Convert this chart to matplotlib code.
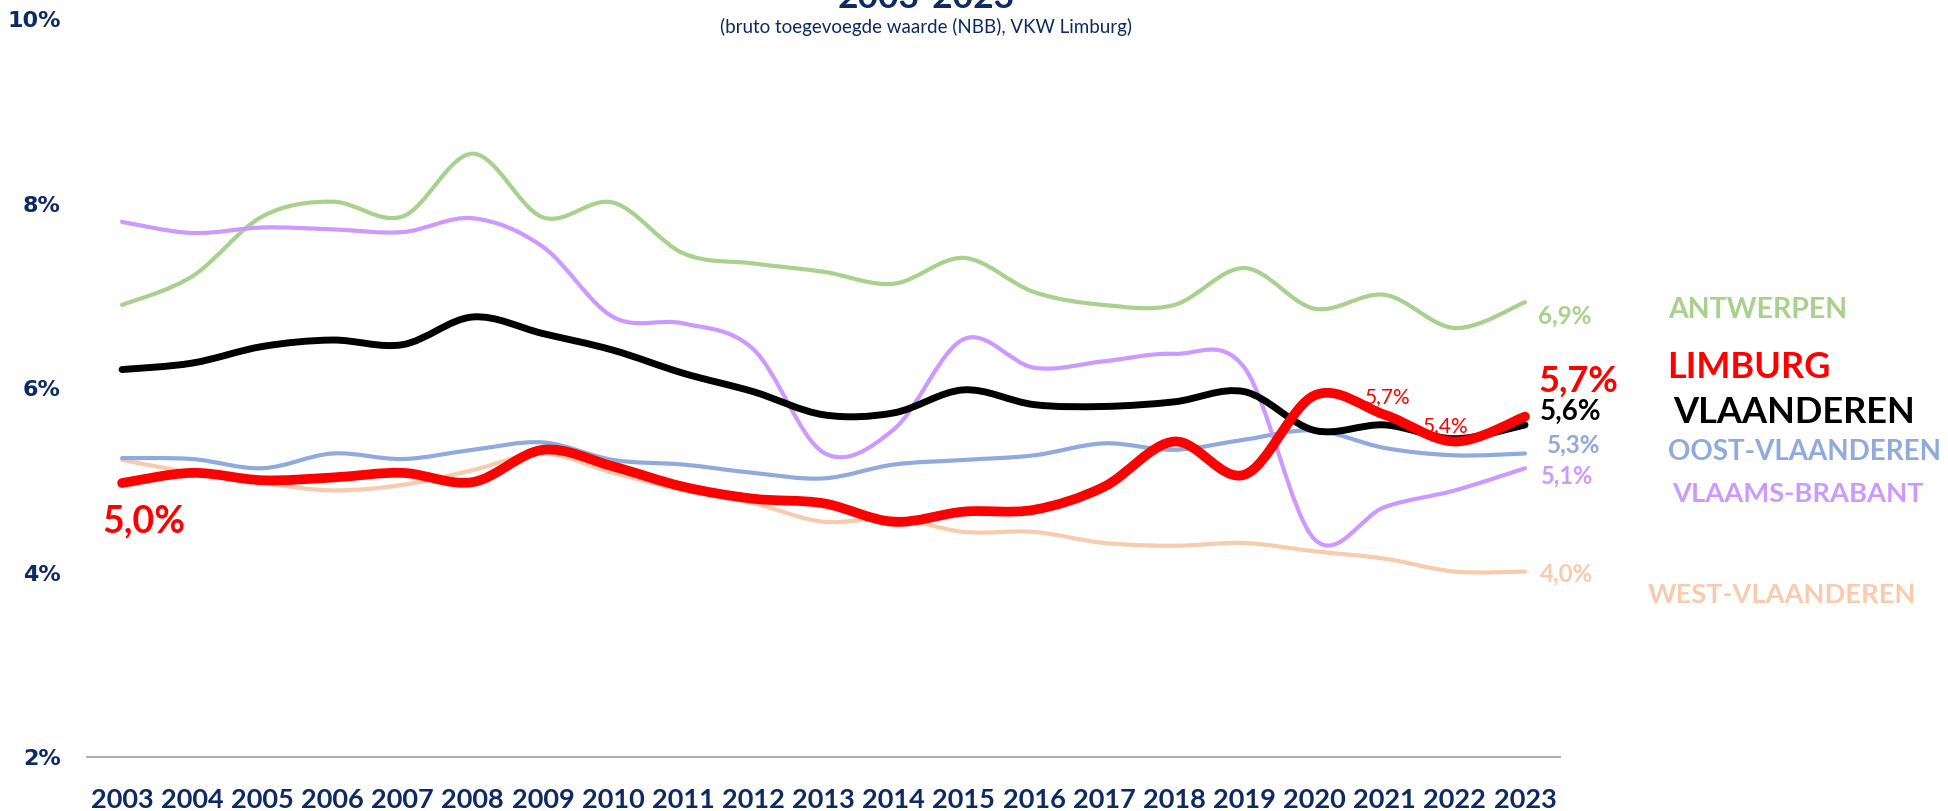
import numpy as np
import matplotlib
matplotlib.use("Agg")
from matplotlib import pyplot as plt
from matplotlib import font_manager
from matplotlib.path import Path
from matplotlib.patches import PathPatch

# ====================================================
# Data (share in %)
# ====================================================

years = [str(y) for y in range(2003, 2024)]

antwerpen = [6.90, 7.21, 7.86, 8.02, 7.86, 8.54, 7.85, 8.01, 7.46, 7.35, 7.26,
             7.13, 7.41, 7.04, 6.90, 6.90, 7.30, 6.86, 7.01, 6.65, 6.93]
vlaams_brabant = [7.80, 7.68, 7.74, 7.72, 7.69, 7.84, 7.53, 6.77, 6.70, 6.42, 5.30,
                  5.55, 6.53, 6.22, 6.29, 6.37, 6.22, 4.36, 4.71, 4.89, 5.13]
vlaanderen = [6.20, 6.27, 6.45, 6.52, 6.47, 6.77, 6.59, 6.41, 6.16, 5.96, 5.71,
              5.73, 5.98, 5.82, 5.80, 5.85, 5.96, 5.54, 5.60, 5.45, 5.60]
limburg = [4.97, 5.08, 5.00, 5.03, 5.08, 4.98, 5.33, 5.15, 4.93, 4.80, 4.75,
           4.55, 4.66, 4.68, 4.93, 5.42, 5.06, 5.92, 5.71, 5.42, 5.69]
oost_vlaanderen = [5.24, 5.23, 5.13, 5.29, 5.23, 5.33, 5.41, 5.22, 5.17, 5.08, 5.02,
                   5.17, 5.22, 5.27, 5.40, 5.33, 5.44, 5.54, 5.35, 5.27, 5.29]
west_vlaanderen = [5.22, 5.08, 4.97, 4.89, 4.95, 5.11, 5.29, 5.08, 4.89, 4.75, 4.55,
                   4.59, 4.44, 4.44, 4.32, 4.29, 4.32, 4.23, 4.15, 4.01, 4.01]

y_ticks = [2, 4, 6, 8, 10]
y_tick_labels = ["2%", "4%", "6%", "8%", "10%"]

title = "2003-2023"
subtitle = "(bruto toegevoegde waarde (NBB), VKW Limburg)"

# ====================================================
# Fonts and colours
# ====================================================

available = {f.name for f in font_manager.fontManager.ttflist}


def pick(*names):
    for n in names:
        if n in available:
            return n
    return "DejaVu Sans"


label_font = pick("Lato", "Open Sans", "DejaVu Sans")
narrow_font = pick("Liberation Sans Narrow", "Lato", "Roboto", "DejaVu Sans")

NAVY = "#0d2a63"
C_ANT = "#a9d18e"
C_VB = "#cc99ff"
C_VL = "#000000"
C_LIM = "#ff0000"
C_OV = "#8faadc"
C_WV = "#f8cbad"


def smooth_path(xs, ys):
    # Excel-style smoothed line: cubic Bezier through every point
    pts = np.column_stack([xs, ys]).astype(float)
    n = len(pts)
    verts = [pts[0]]
    codes = [Path.MOVETO]
    for i in range(n - 1):
        p0 = pts[i - 1] if i > 0 else pts[i]
        p1 = pts[i]
        p2 = pts[i + 1]
        p3 = pts[i + 2] if i + 2 < n else pts[i + 1]
        c1 = p1 + (p2 - p0) / 6.0
        c2 = p2 - (p3 - p1) / 6.0
        verts += [c1, c2, p2]
        codes += [Path.CURVE4] * 3
    return Path(verts, codes)


def main() -> None:
    fig = plt.figure(figsize=(19.48, 8.11), dpi=100)
    ax = fig.add_axes([0.04466, 0.06658, 0.7562, 0.90999])

    x = np.arange(len(years))

    series = [
        (west_vlaanderen, C_WV, 3.0),
        (oost_vlaanderen, C_OV, 3.0),
        (antwerpen, C_ANT, 3.0),
        (vlaams_brabant, C_VB, 3.0),
        (vlaanderen, C_VL, 5.0),
        (limburg, C_LIM, 7.0),
    ]
    for vals, col, lw in series:
        ax.add_patch(PathPatch(smooth_path(x, vals), fill=False, edgecolor=col,
                               lw=lw, capstyle="round", joinstyle="round"))

    ax.set_xlim(-0.5, len(years) - 0.5)
    ax.set_ylim(2, 10)

    # axes styling
    for s in ["top", "right", "left"]:
        ax.spines[s].set_visible(False)
    ax.spines["bottom"].set_color("#a6a6a6")
    ax.spines["bottom"].set_linewidth(1.3)

    ax.set_xticks(x)
    ax.set_xticklabels(years, fontfamily=narrow_font, fontweight="bold",
                       fontsize=19.5, color=NAVY)
    ax.set_yticks(y_ticks)
    ax.set_yticklabels(y_tick_labels, fontfamily="DejaVu Sans", fontweight="bold",
                       fontsize=16, color=NAVY)
    ax.tick_params(axis="x", length=0, pad=22)
    ax.tick_params(axis="y", length=0, pad=19)

    # ------------------------------------------------
    # value labels
    # ------------------------------------------------
    def lab(xp, yp, s, col, size, weight="bold", ha="left"):
        ax.text(xp, yp, s, color=col, fontsize=size, fontweight=weight,
                fontfamily=label_font, ha=ha, va="baseline", clip_on=False)

    lab(20.19, 6.70, f"{antwerpen[-1]:.1f}%".replace(".", ","), C_ANT, 17.5)
    lab(20.19, 5.96, f"{limburg[-1]:.1f}%".replace(".", ","), C_LIM, 26)
    lab(20.21, 5.65, f"{vlaanderen[-1]:.1f}%".replace(".", ","), C_VL, 20)
    lab(20.31, 5.30, f"{oost_vlaanderen[-1]:.1f}%".replace(".", ","), C_OV, 17.5)
    lab(20.23, 4.97, f"{vlaams_brabant[-1]:.1f}%".replace(".", ","), C_VB, 17)
    lab(20.21, 3.90, f"{west_vlaanderen[-1]:.1f}%".replace(".", ","), C_WV, 17.5)
    lab(0.31, 4.43, f"{limburg[0]:.1f}%".replace(".", ","), C_LIM, 27, ha="center")
    lab(17.71, 5.84, f"{limburg[18]:.1f}%".replace(".", ","), C_LIM, 15, weight="normal")
    lab(18.55, 5.52, f"{limburg[19]:.1f}%".replace(".", ","), C_LIM, 15, weight="normal")

    # region names
    lab(22.04, 6.76, "ANTWERPEN", C_ANT, 20.5)
    lab(22.02, 6.11, "LIMBURG", C_LIM, 26)
    lab(22.11, 5.62, "VLAANDEREN", C_VL, 26)
    lab(22.04, 5.22, "OOST-VLAANDEREN", C_OV, 20)
    lab(22.10, 4.76, "VLAAMS-BRABANT", C_VB, 19.7)
    lab(21.75, 3.67, "WEST-VLAANDEREN", C_WV, 19.6)

    # title (cut at top edge as in the reference) and subtitle
    fig.text(926 / 1948, 0.990, title, ha="center", va="baseline",
             fontfamily=label_font, fontweight="bold", fontsize=25.5, color=NAVY)
    fig.text(926 / 1948, 1 - 27 / 811, subtitle, ha="center", va="center",
             fontfamily=label_font, fontsize=13.5, color=NAVY)

    fig.savefig("out.png", dpi=100)
    plt.close(fig)


if __name__ == "__main__":
    main()
